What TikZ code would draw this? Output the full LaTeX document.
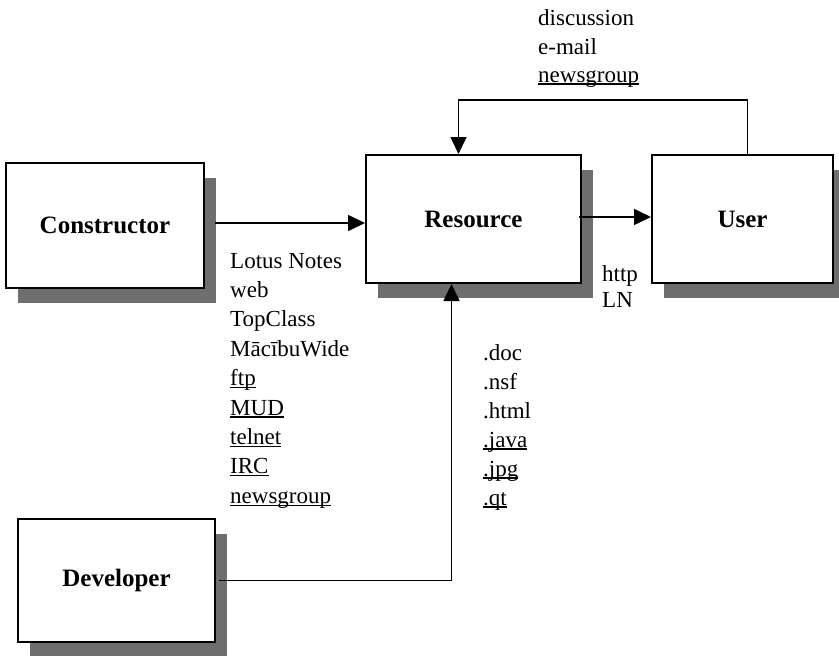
\documentclass[tikz,border=0pt]{standalone}
\usepackage{fontspec}
\setmainfont{Liberation Serif}
\usetikzlibrary{arrows.meta,shadows}
\definecolor{shadowgray}{RGB}{110,110,110}
\newcommand\myul[1]{\setbox0\hbox{#1}\rlap{\rule[-2.6pt]{\wd0}{1.2pt}}#1}
\tikzset{
  box/.style={draw=black, line width=2pt, fill=white, inner sep=0pt,
    font=\fontsize{25}{30}\selectfont\bfseries,
    drop shadow={shadow xshift=12pt, shadow yshift=-15pt, fill=shadowgray, opacity=1}},
  lbl/.style={anchor=base west, inner sep=0pt, font=\fontsize{23}{29}\selectfont},
  arr/.style={line width=1.6pt, -{Triangle[length=17pt,width=16pt]}},
  ln/.style={line width=1.6pt}
}
\begin{document}
\begin{tikzpicture}[x=1pt,y=-1pt]
\clip (0,0) rectangle (839,656);
\fill[white] (0,0) rectangle (839,656);

\node[box, minimum width=198pt, minimum height=125pt] (con) at (105,225.5) {Constructor\hspace{32pt}};
\node[box, minimum width=215pt, minimum height=128pt] (res) at (473.5,219) {Resource};
\node[box, minimum width=181pt, minimum height=128pt] (usr) at (742.5,219) {User};
\node[box, minimum width=197pt, minimum height=123pt] (dev) at (116.5,580.5) {Developer};

% connectors
\draw[arr] ([xshift=10pt,yshift=2.5pt]con.east) -- ([yshift=2.5pt]res.west |- con.east);
\draw[arr] ([xshift=-3pt,yshift=2pt]res.east) -- ([yshift=2pt]usr.west);
\draw[arr] ([xshift=5pt]usr.north) -- ++(0,-54) coordinate (fb) -| ([xshift=-15pt]res.north);
\draw[arr] ([xshift=3pt]dev.east) -| ([xshift=-22pt]res.south);

% top labels
\node[lbl] (t1) at (538,25) {discussion};
\node[lbl] (t2) at (538,54) {e-mail};
\node[lbl] (t3) at (538,82) {\myul{newsgroup}};

% left list
\node[lbl] (l1) at (230,268) {Lotus Notes};
\node[lbl] (l2) at (230,297.4) {web};
\node[lbl] (l3) at (230,326.8) {TopClass};
\node[lbl] (l4) at (230,356.2) {MācībuWide};
\node[lbl] (l5) at (230,385.6) {\myul{ftp}};
\node[lbl] (l6) at (230,415) {\myul{MUD}};
\node[lbl] (l7) at (230,444.4) {\myul{telnet}};
\node[lbl] (l8) at (230,473.8) {\myul{IRC}};
\node[lbl] (l9) at (230,503.2) {\myul{newsgroup}};

% http / LN
\node[lbl] (h1) at (602,281) {http};
\node[lbl] (h2) at (602,307) {LN};

% file types
\node[lbl] (f1) at (483,360) {.doc};
\node[lbl] (f2) at (483,389) {.nsf};
\node[lbl] (f3) at (483,418) {.html};
\node[lbl] (f4) at (483,447) {\myul{.java}};
\node[lbl] (f5) at (483,476) {\myul{.jpg}};
\node[lbl] (f6) at (483,505) {\myul{.qt}};
\end{tikzpicture}
\end{document}
